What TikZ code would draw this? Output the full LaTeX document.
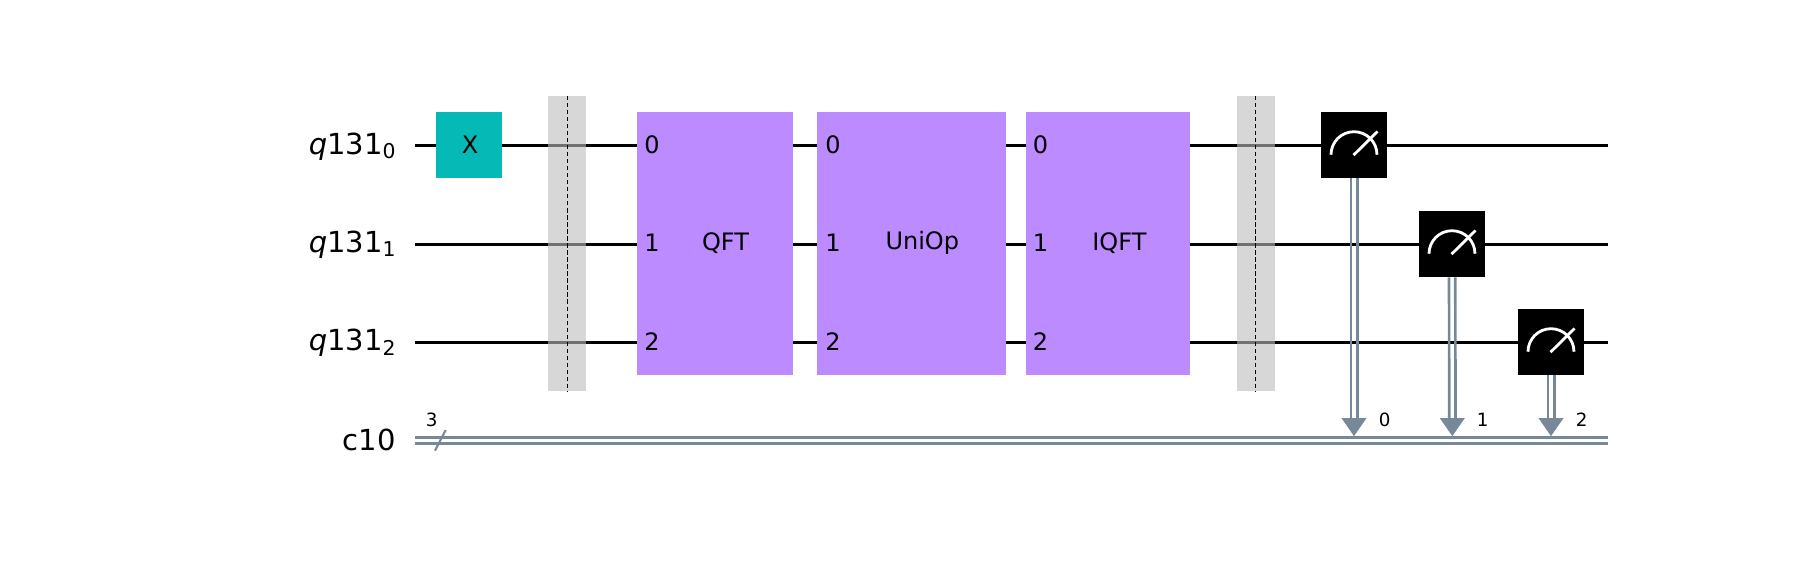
\documentclass[tikz,border=0pt]{standalone}
\usepackage{fontspec}
\setmainfont{DejaVu Sans}
\usetikzlibrary{arrows.meta}
\definecolor{xteal}{HTML}{05BAB6}
\definecolor{boxpurple}{HTML}{BB8BFF}
\definecolor{clgray}{HTML}{778899}
\definecolor{barriergray}{HTML}{BDBDBD}
\newcommand{\wiresub}[1]{\raisebox{-0.086cm}{\fontsize{11.6}{12}\selectfont #1}}
\begin{document}
\begin{tikzpicture}[x=0.02cm, y=-0.02cm]
    % Stili
    \tikzstyle{wirelabel}=[inner sep=0pt, anchor=base east, font=\fontsize{16.5}{19}\selectfont]
    \tikzstyle{gatetext}=[inner sep=0pt, font=\fontsize{13.66}{16}\selectfont]
    \tikzstyle{smalltext}=[inner sep=0pt, font=\fontsize{10.4}{12}\selectfont]
    \tikzstyle{xgate}=[rectangle, fill=xteal, inner sep=0pt, minimum size=1.32cm]
    \tikzstyle{subcircuit}=[rectangle, fill=boxpurple, inner sep=0pt, minimum height=5.26cm]
    \tikzstyle{barrierbox}=[rectangle, fill=barriergray, fill opacity=0.6, inner sep=0pt, minimum width=0.76cm, minimum height=5.9cm]
    \tikzstyle{meter}=[rectangle, fill=black, inner sep=0pt, minimum size=1.32cm]
    \tikzstyle{qwire}=[black, line width=1.5pt]
    \tikzstyle{cwire}=[clgray, line width=1.5pt]
    \tikzstyle{barrierline}=[black, line width=0.65pt, dash pattern=on 2.5pt off 1.5pt]
    \tikzstyle{needle}=[white, line width=1.6pt]
    \tikzstyle{cltip}=[clgray, line width=0.1pt, -{Triangle[length=0.36cm, width=0.5cm]}]

    \useasboundingbox (0,0) rectangle (1800,561);

    % Estremi dei fili
    \coordinate (q0start) at (415,145.3);
    \coordinate (q0end) at (1608,145.3);
    \coordinate (q1start) at (415,244.3);
    \coordinate (q1end) at (1608,244.3);
    \coordinate (q2start) at (415,342.3);
    \coordinate (q2end) at (1608,342.3);
    \coordinate (cstart) at (415,440.3);
    \coordinate (cend) at (1608,440.3);

    % Etichette dei fili
    \node[wirelabel] (q0label) at (396,154) {\textit{q}131\wiresub{0}};
    \node[wirelabel] (q1label) at (396,252.5) {\textit{q}131\wiresub{1}};
    \node[wirelabel] (q2label) at (396,350.7) {\textit{q}131\wiresub{2}};
    \node[wirelabel] (clabel) at (396,450) {c10};

    % Fili quantistici
    \draw[qwire] (q0start) -- (q0end);
    \draw[qwire] (q1start) -- (q1end);
    \draw[qwire] (q2start) -- (q2end);

    % Barriere
    \node[barrierbox] (bar1) at (567.3,243.5) {};
    \node[barrierbox] (bar2) at (1255.5,243.5) {};
    \draw[barrierline] (bar1.north) -- (bar1.south);
    \draw[barrierline] (bar2.north) -- (bar2.south);

    % Porte
    \node[xgate] (xgate0) at (469,145) {};
    \node[gatetext] (xtext) at (470,144.5) {X};
    \node[subcircuit, minimum width=3.12cm] (qft) at (715,243.5) {};
    \node[subcircuit, minimum width=3.78cm] (uniop) at (911.5,243.5) {};
    \node[subcircuit, minimum width=3.28cm] (iqft) at (1108,243.5) {};
    \node[gatetext] (qfttext) at (725.5,243) {QFT};
    \node[gatetext] (uniptext) at (922.3,243) {UniOp};
    \node[gatetext] (iqfttext) at (1119.4,243) {IQFT};

    % Numeri dei bit
    \foreach \boxname/\xpos in {qft/652, uni/833, iqft/1040.5} {
        \node[gatetext] (\boxname0) at (\xpos,145) {0};
        \node[gatetext] (\boxname1) at (\xpos,243) {1};
        \node[gatetext] (\boxname2) at (\xpos,342) {2};
    }

    % Misure
    \node[meter] (meas0) at (1354,145) {};
    \node[meter] (meas1) at (1452,244) {};
    \node[meter] (meas2) at (1551,342) {};
    \coordinate (tip0) at (1354,436);
    \coordinate (tip1) at (1452.3,436);
    \coordinate (tip2) at (1551,436);
    \foreach \m in {0,1,2} {
        \draw[needle] ([shift={(-23,9.7)}]meas\m.center) arc[start angle=180, end angle=0, radius=0.46cm];
        \draw[needle] ([shift={(-0.5,10.2)}]meas\m.center) -- ([shift={(23.5,-13.5)}]meas\m.center);
    }

    % Filo classico
    \draw[cwire] ([yshift=0.06cm]cstart) -- ([yshift=0.06cm]cend);
    \draw[cwire] ([yshift=-0.06cm]cstart) -- ([yshift=-0.06cm]cend);
    \coordinate (slashlow) at (435,450.7);
    \coordinate (slashhigh) at (445.7,430);
    \draw[clgray, line width=1.2pt] (slashlow) -- (slashhigh);
    \node[smalltext] (csize) at (431.7,420.3) {3};

    % Frecce di misura
    \foreach \m in {0,1,2} {
        \draw[cwire] ([xshift=-0.06cm]meas\m.south) -- ([xshift=-0.06cm,yshift=0.3cm]tip\m);
        \draw[cwire] ([xshift=0.065cm]meas\m.south) -- ([xshift=0.065cm,yshift=0.3cm]tip\m);
        \draw[cltip] ([yshift=0.36cm]tip\m) -- (tip\m);
    }
    \node[smalltext] (cbit0) at (1384.7,420) {0};
    \node[smalltext] (cbit1) at (1482.7,420) {1};
    \node[smalltext] (cbit2) at (1581.7,420) {2};
\end{tikzpicture}
\end{document}
